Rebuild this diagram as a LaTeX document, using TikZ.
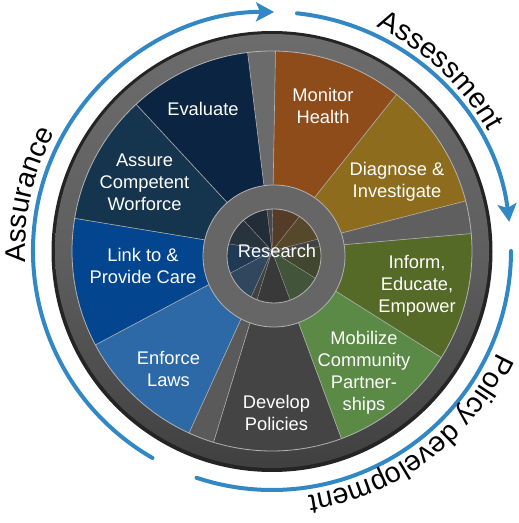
\documentclass[tikz,border=0pt]{standalone}
\usepackage{fontspec}
\setmainfont{Liberation Sans}
\usetikzlibrary{arrows.meta,decorations.text,calc}

\definecolor{rimdark}{HTML}{242424}
\definecolor{rimtop}{HTML}{6C6C6C}
\definecolor{rimmid}{HTML}{5F5F5F}
\definecolor{rimbot}{HTML}{404040}
\definecolor{hubgray}{HTML}{666666}
\definecolor{edgeline}{HTML}{B2B2B2}
\definecolor{cEval}{HTML}{0A2442}
\definecolor{cAssure}{HTML}{15354F}
\definecolor{cLink}{HTML}{03458F}
\definecolor{cEnforce}{HTML}{2D69A6}
\definecolor{cDevelop}{HTML}{444444}
\definecolor{cMobilize}{HTML}{5B8A46}
\definecolor{cInform}{HTML}{566A27}
\definecolor{cDiagnose}{HTML}{8D6C1E}
\definecolor{cMonitor}{HTML}{8D4C1A}
\definecolor{cycleblue}{HTML}{3288C4}

% one pie slice around the current origin: start angle, end angle, colour, radius
\newcommand{\wheelslice}[4]{\fill[#3] (0,0) -- (#1:#4) arc[start angle=#1,end angle=#2,radius=#4] -- cycle;}
% all slices of the wheel at a given radius
\newcommand{\wheelslices}[1]{%
  \wheelslice{-32.2}{5}{cInform}{#1}
  \wheelslice{5}{14.5}{rimmid}{#1}
  \wheelslice{14.5}{51.5}{cDiagnose}{#1}
  \wheelslice{51.5}{89}{cMonitor}{#1}
  \wheelslice{89}{97}{rimtop!90!rimmid}{#1}
  \wheelslice{97}{132.8}{cEval}{#1}
  \wheelslice{132.8}{170.6}{cAssure}{#1}
  \wheelslice{170.6}{208}{cLink}{#1}
  \wheelslice{208}{245.5}{cEnforce}{#1}
  \wheelslice{245.5}{253}{rimmid!85!rimbot}{#1}
  \wheelslice{253}{290.3}{cDevelop}{#1}
  \wheelslice{290.3}{327.8}{cMobilize}{#1}}
% the light divider lines between the slices
\newcommand{\wheeldividers}[2]{%
  \foreach \a in {-32.2,5,14.5,51.5,89,97,132.8,170.6,208,245.5,253,290.3}
    \draw[edgeline, line width=#2] (0,0) -- (\a:#1);}

\begin{document}
\begin{tikzpicture}[x=1pt,y=1pt,
  segtext/.style={text=white, font=\fontsize{18.3}{22}\selectfont, align=center, inner sep=0pt},
  cyclearc/.style={draw=cycleblue, line width=4pt, line cap=round},
  cycletip/.style={-{Stealth[length=18pt,width=19pt,inset=4pt]}},
  phasetext/.style={decorate, decoration={text along path, text align=center, text color=black}}]
\useasboundingbox (0,0) rectangle (519,523);
\coordinate (C) at (272,272);
\coordinate (H) at (274,267);

% rim of the wheel
\fill[rimdark] ($(C)+(0,-0.5)$) circle[radius=220.5];
\shade[top color=rimtop, bottom color=rimbot, middle color=rimmid] (C) circle[radius=217];

% the nine services and the three gray spokes
\begin{scope}[shift={(C)}]
  \wheelslices{200}
  \begin{scope}
    \clip (0,0) circle[radius=200];
    \wheeldividers{200}{0.6pt}
  \end{scope}
  \draw[edgeline, line width=0.8pt] (0,0) circle[radius=200];
\end{scope}

% hub
\fill[hubgray] (H) circle[radius=71];
\draw[edgeline, line width=0.8pt] (H) circle[radius=71];
\begin{scope}
  \clip (H) circle[radius=47];
  \begin{scope}[shift={(C)}]
    \wheelslices{130}
  \end{scope}
  \fill[black!80, opacity=0.62] (H) circle[radius=47];
  \begin{scope}[shift={(C)}]
    \wheeldividers{130}{0.3pt}
  \end{scope}
\end{scope}
\draw[edgeline, line width=0.8pt] (H) circle[radius=47];

% service labels
\node[segtext] (research) at (277,272) {Research};
\node[segtext] (evaluate) at (203,414) {Evaluate};
\node[segtext] (monitor) at (323,417) {Monitor\\Health};
\node[segtext] (diagnose) at (397,341) {Diagnose \&\\Investigate};
\node[segtext] (inform) at (417,237) {Inform,\\Educate,\\Empower};
\node[segtext] (mobilize) at (364,150) {Mobilize\\Community\\Partner-\\ships};
\node[segtext] (develop) at (276.5,110) {Develop\\Policies};
\node[segtext] (enforce) at (168.5,154.5) {Enforce\\Laws};
\node[segtext] (link) at (143,257) {Link to \&\\Provide Care};
\node[segtext] (assure) at (144.5,341) {Assure\\Competent\\Worforce};

% cycle of the three core functions
\draw[cyclearc, cycletip] ($(C)+(240:239)$) arc[start angle=240, end angle=89.5, radius=239];
\draw[cyclearc, cycletip] ($(C)+(84:239)$) arc[start angle=84, end angle=7, radius=239];
\draw[cyclearc] ($(C)+(0:239)$) arc[start angle=0, end angle=-108.4, radius=239];

\path[phasetext, decoration={text={|\fontsize{28.5}{28.5}\selectfont|Assurance}}]
  ($(C)+(205:247)$) arc[start angle=205, end angle=129, radius=247];
\path[phasetext, decoration={text={|\fontsize{28.5}{28.5}\selectfont|Assessment}}]
  ($(C)+(85:247)$) arc[start angle=85, end angle=9, radius=247];
\path[phasetext, decoration={text={|\fontsize{28.5}{28.5}\selectfont|Policy development}}]
  ($(C)+(-5:247)$) arc[start angle=-5, end angle=-101, radius=247];
\end{tikzpicture}
\end{document}
